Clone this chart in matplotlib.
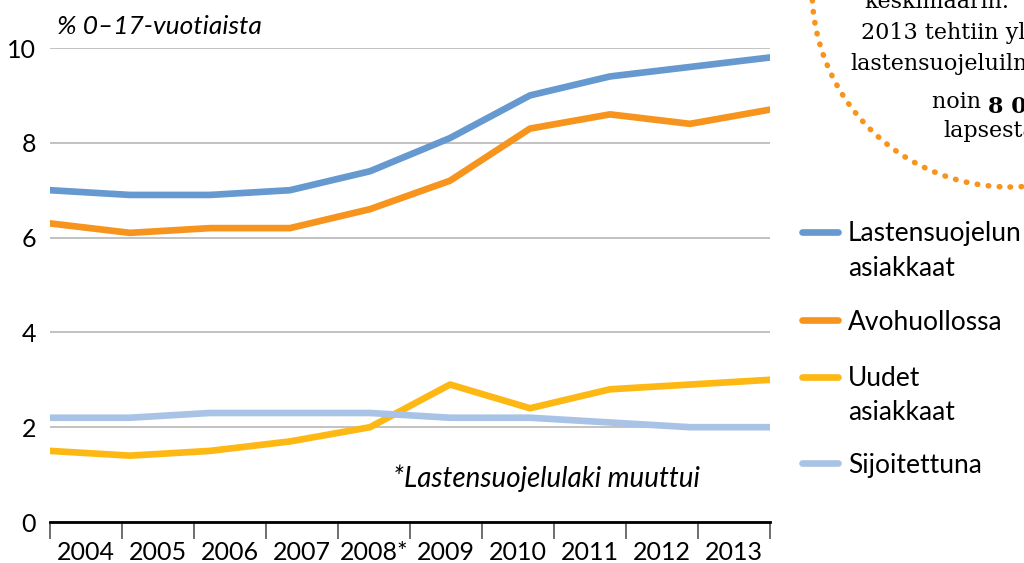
import numpy as np
import matplotlib.pyplot as plt
from matplotlib.patches import Circle

years = ['2004', '2005', '2006', '2007', '2008*', '2009', '2010', '2011', '2012', '2013']
asiakkaat = [7.0, 6.9, 6.9, 7.0, 7.4, 8.1, 9.0, 9.4, 9.6, 9.8]
avohuolto = [6.3, 6.1, 6.2, 6.2, 6.6, 7.2, 8.3, 8.6, 8.4, 8.7]
uudet = [1.5, 1.4, 1.5, 1.7, 2.0, 2.9, 2.4, 2.8, 2.9, 3.0]
sijoitettu = [2.2, 2.2, 2.3, 2.3, 2.3, 2.2, 2.2, 2.1, 2.0, 2.0]

series = [
    ('Lastensuojelun\nasiakkaat', asiakkaat, '#6699D0'),
    ('Avohuollossa', avohuolto, '#F7941D'),
    ('Uudet\nasiakkaat', uudet, '#FDB813'),
    ('Sijoitettuna', sijoitettu, '#A9C3E6'),
]

plt.rcParams['font.family'] = ['Lato', 'DejaVu Sans']
serif = ['DejaVu Serif']

W, H = 1024, 563
fig = plt.figure(figsize=(W/100, H/100), dpi=100)
ax = fig.add_axes([50/W, 1 - 522/H, 720/W, 474/H])

n = len(years)
# lines span the whole width, the category ticks split it into n bins
xs = np.arange(n) * n / (n - 1)
for name, vals, col in series:
    ax.plot(xs, vals, color=col, lw=4.8, solid_capstyle='round',
            solid_joinstyle='round', zorder=3)

ax.set_xlim(0, n)
ax.set_ylim(0, 10)
ax.set_yticks([0, 2, 4, 6, 8, 10])
ax.set_yticklabels(['0', '2', '4', '6', '8', '10'], fontsize=18)
ax.tick_params(axis='y', length=0, pad=10)
ax.grid(axis='y', color='#B8B8B8', lw=1.2)
ax.set_axisbelow(True)

ax.set_xticks(np.arange(n + 1))
ax.set_xticklabels([''] * (n + 1))
ax.set_xticks(np.arange(n) + 0.5, minor=True)
ax.set_xticklabels(years, minor=True, fontsize=18)
ax.tick_params(axis='x', which='major', length=12, width=1.2, color='#555555', direction='out')
ax.tick_params(axis='x', which='minor', length=0, pad=14)

for s in ['left', 'right', 'top']:
    ax.spines[s].set_visible(False)
ax.spines['bottom'].set_linewidth(2)

fig.text(57/W, 1 - 26/H, '% 0\u201317-vuotiaista', fontsize=19, style='italic',
         va='center', ha='left')
fig.text(393/W, 1 - 478/H, '*Lastensuojelulaki muuttui', fontsize=20, style='italic',
         va='center', ha='left')

# legend drawn by hand
leg_y = [232, 320, 377, 463]
for (name, vals, col), y in zip(series, leg_y):
    fig.add_artist(plt.Line2D([802/W, 838/W], [1 - y/H] * 2, color=col,
                              lw=4.8, solid_capstyle='round'))
    for k, line in enumerate(name.split('\n')):
        fig.text(848/W, 1 - (y + 2 + 34*k)/H, line, fontsize=19, va='center', ha='left')

# dotted callout circle, partly outside the figure
circ = Circle((10.10, (H + 11)/100), 1.98, transform=fig.dpi_scale_trans, fill=False,
              ec='#F7941D', lw=4, ls=(0, (0.1, 1.9)), capstyle='round')
fig.add_artist(circ)

callout = [('keskimäärin.', 864, 2), ('2013 tehtiin yli', 861, 33),
           ('lastensuojeluilmoituksia', 850, 64), ('lapsesta.', 943, 131)]
for txt, x, y in callout:
    fig.text(x/W, 1 - y/H, txt, family=serif, fontsize=16, ha='left', va='center')
t = fig.text(932/W, 1 - 108/H, 'noin ', family=serif, fontsize=16, ha='left', va='baseline')
fig.texts.append(plt.Annotation('8 000', xy=(1, 0), xycoords=t, family=serif, fontsize=16,
                                weight='bold', ha='left', va='baseline'))
fig.texts[-1].set_figure(fig)

fig.savefig('out.png', dpi=100)
